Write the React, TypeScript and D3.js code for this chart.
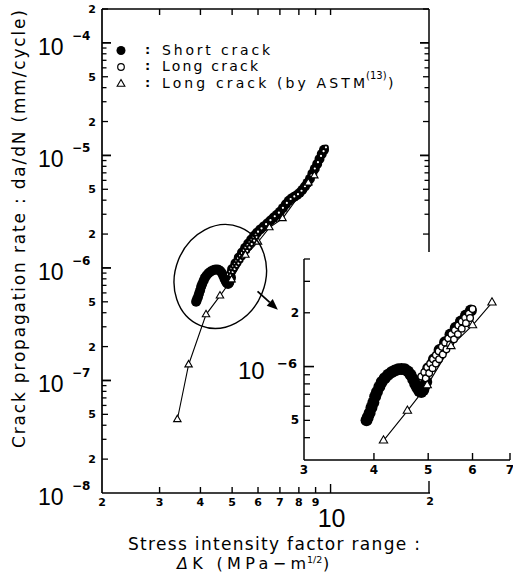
import React, { useEffect, useRef } from 'react';
import * as d3 from 'd3';

// values: [ΔK (MPa·m^1/2), da/dN (mm/cycle)]
const shortCrack: [number, number][] = [
  [3.88, 5.0e-7], [3.9, 5.2e-7], [3.93, 5.5e-7], [3.96, 5.9e-7], [3.99, 6.3e-7],
  [4.02, 6.8e-7], [4.05, 7.2e-7], [4.09, 7.7e-7], [4.13, 8.2e-7], [4.18, 8.6e-7],
  [4.24, 9.0e-7], [4.3, 9.3e-7], [4.36, 9.5e-7], [4.42, 9.65e-7], [4.48, 9.7e-7],
  [4.54, 9.65e-7], [4.6, 9.4e-7], [4.65, 9.0e-7], [4.7, 8.5e-7], [4.74, 8.0e-7],
  [4.78, 7.6e-7], [4.82, 7.3e-7], [4.86, 7.2e-7], [4.9, 7.4e-7], [4.93, 7.8e-7],
  [4.96, 8.2e-7], [5.0, 9.8e-7], [5.12, 1.1e-6], [5.24, 1.24e-6], [5.36, 1.37e-6],
  [5.48, 1.51e-6], [5.6, 1.65e-6], [5.72, 1.79e-6], [5.84, 1.93e-6], [5.96, 2.06e-6],
  [6.1, 2.2e-6], [6.25, 2.34e-6], [6.4, 2.48e-6], [6.55, 2.64e-6], [6.7, 2.8e-6],
  [6.85, 2.97e-6], [7.0, 3.15e-6], [7.15, 3.4e-6], [7.3, 3.68e-6], [7.45, 3.95e-6],
  [7.6, 4.15e-6], [7.75, 4.3e-6], [7.9, 4.45e-6], [8.05, 4.65e-6], [8.2, 4.95e-6],
  [8.35, 5.3e-6], [8.5, 5.7e-6], [8.65, 6.2e-6], [8.8, 6.9e-6], [8.95, 7.6e-6],
  [9.1, 8.4e-6], [9.25, 9.3e-6], [9.4, 1.03e-5], [9.55, 1.12e-5],
];

const longCrack: [number, number][] = [
  [4.86, 8.8e-7], [4.92, 9.3e-7], [4.98, 9.9e-7], [5.04, 1.04e-6], [5.1, 1.1e-6],
  [5.16, 1.16e-6], [5.22, 1.22e-6], [5.29, 1.29e-6], [5.36, 1.36e-6], [5.43, 1.44e-6],
  [5.5, 1.52e-6], [5.58, 1.6e-6], [5.66, 1.7e-6], [5.74, 1.79e-6], [5.82, 1.88e-6],
  [5.91, 1.98e-6], [6.0, 2.1e-6],
  [4.95, 8.6e-7], [5.02, 9.2e-7], [5.09, 9.8e-7], [5.16, 1.04e-6], [5.23, 1.1e-6],
  [5.31, 1.17e-6], [5.39, 1.25e-6], [5.47, 1.33e-6], [5.56, 1.42e-6], [5.65, 1.52e-6],
  [5.74, 1.63e-6], [5.84, 1.75e-6], [5.94, 1.87e-6],
  [6.15, 2.25e-6], [6.35, 2.45e-6], [6.55, 2.66e-6], [6.75, 2.88e-6], [6.95, 3.1e-6],
  [7.15, 3.42e-6], [7.35, 3.78e-6], [7.55, 4.1e-6], [7.75, 4.32e-6], [7.95, 4.52e-6],
  [8.15, 4.85e-6], [8.35, 5.32e-6], [8.55, 5.85e-6], [8.75, 6.65e-6], [8.95, 7.65e-6],
  [9.15, 8.7e-6], [9.35, 9.9e-6], [9.52, 1.09e-5], [9.68, 1.18e-5],
];

const astmCrack: [number, number][] = [
  [3.4, 4.5e-8], [3.68, 1.38e-7], [4.16, 3.85e-7], [4.59, 5.65e-7], [4.98, 7.85e-7],
  [5.49, 1.3e-6], [6.0, 1.7e-6], [6.5, 2.28e-6], [7.13, 2.75e-6], [8.55, 5.7e-6],
  [8.92, 6.6e-6],
];

const mainXTicks = [3, 4, 5, 6, 7, 8, 9];
const decades = [1e-8, 1e-7, 1e-6, 1e-5, 1e-4];
const decadeExp = ['−8', '−7', '−6', '−5', '−4'];
const insetXTicks = [3, 4, 5, 6, 7];
const legendItems = ['Short crack', 'Long crack', 'Long crack (by ASTM'];

// the inset only repeats the lower part of the data
const insetCircleMaxK = 6.0;
const insetTriangleMaxK = 6.5;

// annotation anchors, in data units of the main plot
const ellipseCenter: [number, number] = [4.6, 8.4e-7];
const arrowFrom: [number, number] = [5.98, 6.2e-7];
const arrowTo: [number, number] = [6.9, 4.25e-7];

const W = 513;
const H = 577;
const M = { l: 102, r: 429, t: 9, b: 493 };
const I = { l: 304, r: 510, t: 259, b: 460 };

const textFont = '"DejaVu Sans", sans-serif';
const numFont = '"Liberation Sans", Arial, sans-serif';

function minorTicks(lo: number, hi: number) {
  const out: number[] = [];
  for (let e = Math.floor(Math.log10(lo)); e <= Math.ceil(Math.log10(hi)); e++) {
    for (let m = 2; m <= 9; m++) {
      const v = m * Math.pow(10, e);
      if (v >= lo * 0.9999 && v <= hi * 1.0001) out.push(v);
    }
  }
  return out;
}

const mantissa = (v: number) => Math.round(v / Math.pow(10, Math.floor(Math.log10(v) + 1e-9)));

export default function App() {
  const ref = useRef<SVGSVGElement>(null);

  useEffect(() => {
    const svg = d3.select(ref.current);
    svg.selectAll('*').remove();

    const line = (g: any, x1: number, y1: number, x2: number, y2: number, w = 1.5) =>
      g.append('line')
        .attr('x1', x1).attr('y1', y1).attr('x2', x2).attr('y2', y2)
        .attr('stroke', '#000').attr('stroke-width', w);

    const text = (g: any, x: number, y: number, s: string, size: number, opts: any = {}) =>
      g.append('text')
        .attr('x', x).attr('y', y)
        .attr('font-family', opts.family || textFont)
        .attr('font-size', size)
        .attr('font-weight', opts.weight || 'normal')
        .attr('text-anchor', opts.anchor || 'start')
        .attr('fill', '#000')
        .text(s);

    // ---------- main plot ----------
    const x = d3.scaleLog().domain([2, 20]).range([M.l, M.r]);
    const y = d3.scaleLog().domain([1e-8, 2e-4]).range([M.b, M.t]);
    const g = svg.append('g');

    // frame
    line(g, M.l, M.t, M.l, M.b, 1.7);
    line(g, M.l, M.b, M.r + 1, M.b, 1.7);
    line(g, M.l, M.t, M.r, M.t, 1.7);
    line(g, M.r, M.t, M.r, I.t - 7, 1.5);

    // y ticks, left and right
    decades.forEach((v) => {
      if (v > 1e-8) {
        line(g, M.l, y(v), M.l + 9, y(v), 1.8);
        if (y(v) < I.t - 7) line(g, M.r, y(v), M.r - 9, y(v), 1.8);
      }
    });
    minorTicks(1e-8, 2e-4).forEach((v) => {
      const len = [2, 5].includes(mantissa(v)) ? 6 : 4.5;
      line(g, M.l, y(v), M.l + len, y(v), 1.3);
      if (y(v) < I.t - 7) line(g, M.r, y(v), M.r - len, y(v), 1.3);
    });

    // x ticks, bottom and top
    mainXTicks.forEach((v) => {
      line(g, x(v), M.b, x(v), M.b - 6, 1.4);
      line(g, x(v), M.t, x(v), M.t + 6, 1.4);
    });
    line(g, x(10), M.b, x(10), M.b - 9, 1.4);
    line(g, x(10), M.t, x(10), M.t + 6, 1.4);
    line(g, x(20), M.b, x(20), M.b - 12, 1.4);

    // y labels
    decades.forEach((v, i) => {
      text(g, 38, y(v) + 12, '10', 23, { family: numFont });
      text(g, 72, y(v) - 3, decadeExp[i], 12, { weight: 'bold' });
    });
    minorTicks(1e-8, 2e-4).forEach((v) => {
      const m = mantissa(v);
      if (m === 2 || m === 5) text(g, 96, y(v) + 4, String(m), 11, { weight: 'bold', anchor: 'end' });
    });

    // x labels
    text(g, x(2), M.b + 13, '2', 11, { weight: 'bold', anchor: 'middle' });
    mainXTicks.forEach((v) => text(g, x(v), M.b + 13, String(v), 11, { weight: 'bold', anchor: 'middle' }));
    text(g, x(20) + 1, M.b + 12, '2', 11, { weight: 'bold', anchor: 'middle' });
    text(g, x(10) + 1, M.b + 34, '10', 25, { family: numFont, anchor: 'middle' });

    // series
    const drawSeries = (
      gg: any, xs: any, ys: any,
      sc: [number, number][], lc: [number, number][], ac: [number, number][],
      rFill: number, rOpen: number, openW: number, tri: number,
    ) => {
      gg.append('path')
        .attr('d', d3.line<[number, number]>().x((d) => xs(d[0])).y((d) => ys(d[1]))(ac))
        .attr('fill', 'none').attr('stroke', '#000').attr('stroke-width', 1.1);
      gg.selectAll('.sc').data(sc).enter().append('circle')
        .attr('cx', (d: any) => xs(d[0])).attr('cy', (d: any) => ys(d[1]))
        .attr('r', rFill).attr('fill', '#000');
      gg.selectAll('.lc').data(lc).enter().append('circle')
        .attr('cx', (d: any) => xs(d[0])).attr('cy', (d: any) => ys(d[1]))
        .attr('r', rOpen).attr('fill', '#fff').attr('stroke', '#000').attr('stroke-width', openW);
      gg.selectAll('.ac').data(ac).enter().append('path')
        .attr('d', d3.symbol().type(d3.symbolTriangle).size(tri)())
        .attr('transform', (d: any) => `translate(${xs(d[0])},${ys(d[1])})`)
        .attr('fill', '#fff').attr('stroke', '#000').attr('stroke-width', 1.1);
    };
    drawSeries(g, x, y, shortCrack, longCrack, astmCrack, 5, 2, 1.8, 24);

    // ellipse + arrow
    g.append('ellipse')
      .attr('cx', 0).attr('cy', 0).attr('rx', 45).attr('ry', 53)
      .attr('transform', `translate(${x(ellipseCenter[0])},${y(ellipseCenter[1])}) rotate(22)`)
      .attr('fill', 'none').attr('stroke', '#000').attr('stroke-width', 1.4);
    const p0 = [x(arrowFrom[0]), y(arrowFrom[1])];
    const p1 = [x(arrowTo[0]), y(arrowTo[1])];
    const len = Math.hypot(p1[0] - p0[0], p1[1] - p0[1]);
    const ux = (p1[0] - p0[0]) / len, uy = (p1[1] - p0[1]) / len;
    const bx = p1[0] - ux * 11, by = p1[1] - uy * 11;
    line(g, p0[0], p0[1], bx, by, 1.8);
    g.append('path')
      .attr('d', `M${p1[0]},${p1[1]}L${bx - uy * 4.5},${by + ux * 4.5}L${bx + uy * 4.5},${by - ux * 4.5}Z`)
      .attr('fill', '#000');

    // legend
    const rows = [50.5, 67, 84];
    const base = [54.5, 71, 87.5];
    g.append('circle').attr('cx', 121).attr('cy', rows[0]).attr('r', 4.5).attr('fill', '#000');
    g.append('circle').attr('cx', 121).attr('cy', rows[1]).attr('r', 3.3)
      .attr('fill', '#fff').attr('stroke', '#000').attr('stroke-width', 1.2);
    g.append('path').attr('d', d3.symbol().type(d3.symbolTriangle).size(26)())
      .attr('transform', `translate(121,${rows[2]})`)
      .attr('fill', '#fff').attr('stroke', '#000').attr('stroke-width', 1.1);
    const legendWidths = [108, 96, 203];
    legendItems.forEach((s, i) => {
      text(g, 145, base[i] - 1, ':', 13, { weight: 'bold' });
      text(g, 162, base[i], s, 14).attr('textLength', legendWidths[i]).attr('lengthAdjust', 'spacing');
    });
    text(g, 366, 79, '(13)', 10);
    text(g, 388, 87.5, ')', 14);

    // axis titles
    text(g, 0, 0, 'Crack propagation rate : da/dN (mm/cycle)', 17, { anchor: 'middle' })
      .attr('transform', 'translate(25,229) rotate(-90)')
      .attr('textLength', 438).attr('lengthAdjust', 'spacing');
    text(g, 128, 550, 'Stress intensity factor range :', 17)
      .attr('textLength', 292).attr('lengthAdjust', 'spacing');
    const t2 = g.append('text').attr('x', 177).attr('y', 569)
      .attr('font-family', textFont).attr('font-size', 16).attr('textLength', 129)
      .attr('lengthAdjust', 'spacing');
    t2.append('tspan').attr('font-style', 'italic').text('Δ');
    t2.append('tspan').text('K (MPa−m');
    text(g, 307, 563, '1/2', 9.5);
    text(g, 323, 569, ')', 16);

    // ---------- inset ----------
    const xi = d3.scaleLog().domain([3, 7]).range([I.l, I.r]);
    const yi = d3.scaleLog().domain([3e-7, 4e-6]).range([I.b, I.t]);
    const gi = svg.append('g');
    line(gi, I.l, I.t, I.l, I.b, 1.5);
    line(gi, I.l, I.b, I.r, I.b, 1.5);
    minorTicks(3e-7, 4e-6).forEach((v) => {
      if (v > 3.01e-7) line(gi, I.l, yi(v), I.l + 6, yi(v), 1.3);
    });
    line(gi, I.l, yi(1e-6), I.l + 10, yi(1e-6), 1.6);
    insetXTicks.slice(1).forEach((v) => line(gi, xi(v), I.b, xi(v), I.b - 7, 1.4));

    text(gi, 299, yi(2e-6) + 4, '2', 12, { weight: 'bold', anchor: 'end' });
    text(gi, 299, yi(5e-7) + 4, '5', 12, { weight: 'bold', anchor: 'end' });
    text(gi, 238, yi(1e-6) + 12, '10', 24, { family: numFont });
    text(gi, 277, yi(1e-6) + 1, '−6', 13, { weight: 'bold' });
    insetXTicks.forEach((v) => text(gi, xi(v), I.b + 14, String(v), 12, { weight: 'bold', anchor: 'middle' }));

    drawSeries(
      gi, xi, yi,
      shortCrack.filter((d) => d[0] <= insetCircleMaxK),
      longCrack.filter((d) => d[0] <= insetCircleMaxK),
      astmCrack.filter((d) => d[0] >= 4 && d[0] <= insetTriangleMaxK),
      6, 3.3, 1.3, 30,
    );
  }, []);

  return (
    <svg
      ref={ref}
      width={W}
      height={H}
      style={{ position: 'absolute', left: 0, top: 0, background: '#fff' }}
    />
  );
}
